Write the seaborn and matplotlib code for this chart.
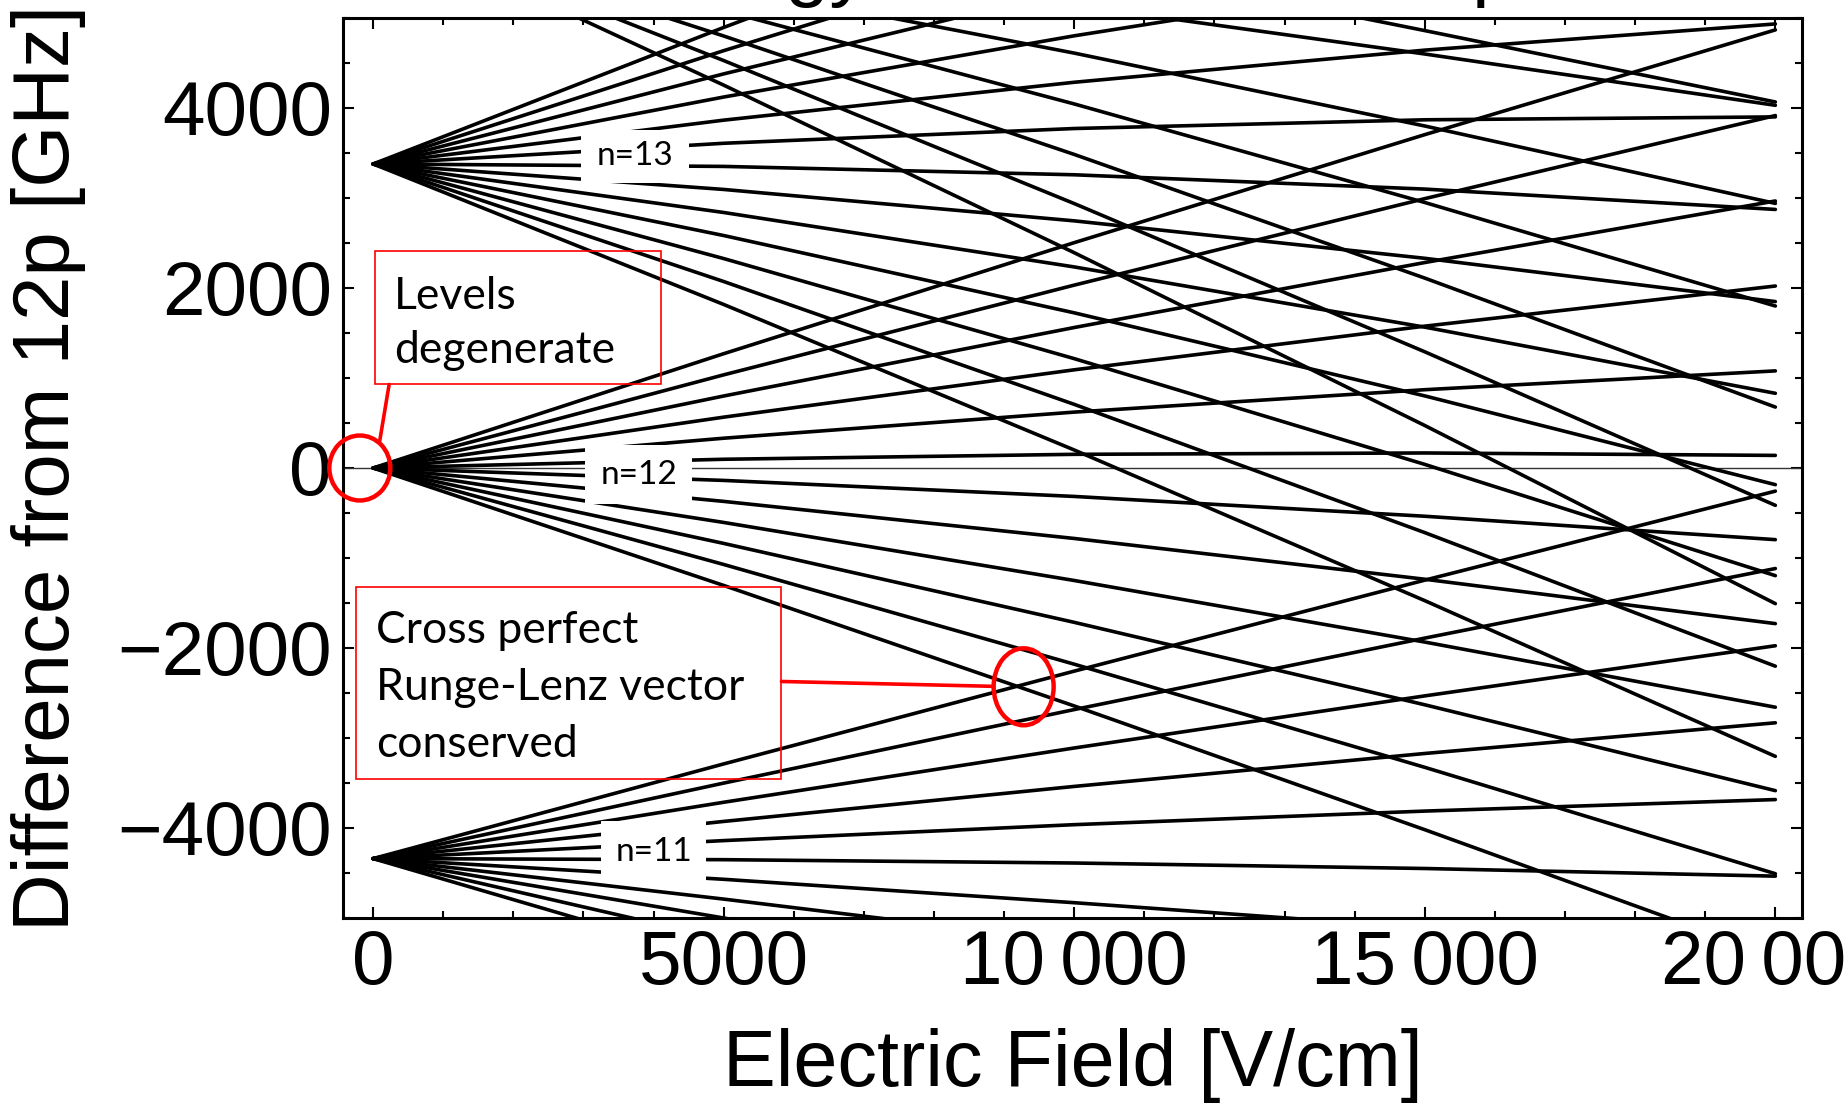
import matplotlib
matplotlib.use("Agg")
import matplotlib.pyplot as plt
from matplotlib.patches import Ellipse, Rectangle
from matplotlib.ticker import MultipleLocator
import numpy as np
import pandas as pd
import seaborn as sns

# ---------------- data (energy in GHz vs field in V/cm) ----------------
field = [0, 5000, 10000, 15000, 20000]

n11_lines = [
    [-4340, -3288, -2257, -1246, -257],
    [-4340, -3501, -2684, -1890, -1117],
    [-4340, -3714, -3111, -2532, -1975],
    [-4340, -3927, -3538, -3172, -2831],
    [-4340, -4140, -3963, -3812, -3684],
    [-4340, -4352, -4389, -4450, -4535],
    [-4340, -4570, -4830, -5110, -5410],
    [-4340, -4790, -5265, -5760, -6270],
    [-4340, -5000, -5690, -6390, -7110],
    [-4340, -5235, -6150, -7080, -8030],
    [-4340, -5480, -6640, -7800, -8990],
]

n12_lines = [
    [0, 1270, 2504, 3704, 4868],
    [0, 1035, 2032, 2993, 3916],
    [0, 800, 1561, 2283, 2967],
    [0, 565, 1091, 1576, 2022],
    [0, 331, 621, 870, 1079],
    [0, 97, 152, 167, 140],
    [0, -138, -316, -536, -796],
    [0, -371, -783, -1236, -1729],
    [0, -605, -1250, -1934, -2658],
    [0, -838, -1715, -2631, -3585],
    [0, -1072, -2180, -3326, -4508],
    [0, -1305, -2644, -4019, -5428],
]

n13_lines = [
    [3378, 4895, 6356, 7760, 9108],
    [3378, 4637, 5837, 6977, 8058],
    [3378, 4379, 5319, 6196, 7012],
    [3378, 4122, 4802, 5418, 5971],
    [3378, 3865, 4286, 4643, 4934],
    [3378, 3608, 3772, 3869, 3901],
    [3378, 3351, 3258, 3099, 2873],
    [3378, 3095, 2746, 2330, 1849],
    [3378, 2839, 2234, 1565, 830],
    [3378, 2583, 1724, 801, -185],
    [3378, 2327, 1215, 40, -1196],
    [3378, 2072, 707, -718, -2202],
    [3378, 1817, 200, -1474, -3204],
]

n14_lines = [
    [6058, 4254, 2392, 472, -1507],
    [6058, 4527, 2938, 1291, -415],
    [6058, 4800, 3484, 2110, 677],
    [6058, 5080, 4045, 2950, 1800],
    [6058, 5360, 4610, 3800, 2940],
    [6058, 5625, 5140, 4600, 4030],
    [6058, 5950, 5640, 4860, 4067],
]

manifolds = {"n11": n11_lines, "n12": n12_lines, "n13": n13_lines, "n14": n14_lines}

x_ticks = [0, 5000, 10000, 15000, 20000]
x_tick_labels = ["0", "5000", "10\u2009000", "15\u2009000", "20\u2009000"]
y_ticks = [-4000, -2000, 0, 2000, 4000]
y_tick_labels = ["\u22124000", "\u22122000", "0", "2000", "4000"]

rows = []
for name, lines in manifolds.items():
    for i, vals in enumerate(lines):
        for f, e in zip(field, vals):
            rows.append({"field": f, "energy": e, "line": f"{name}_{i}"})
df = pd.DataFrame(rows)

# ---------------- plot ----------------
sns.set_style("ticks")
plt.rcParams["font.family"] = ["Liberation Sans", "DejaVu Sans"]
for key in ["text.color", "axes.labelcolor", "xtick.color", "ytick.color",
            "axes.edgecolor"]:
    plt.rcParams[key] = "black"

W, H = 1848, 1107
fig = plt.figure(figsize=(W / 100, H / 100), dpi=100)
ax = fig.add_axes([343 / W, 189 / H, 1459 / W, 900 / H])

ax.axhline(0, color="#333333", lw=1.0, zorder=1)
sns.lineplot(data=df, x="field", y="energy", units="line", estimator=None,
             color="black", lw=2.6, ax=ax, legend=False, zorder=2)

ax.set_xlim(-430, 20380)
ax.set_ylim(-5000, 5000)
ax.set_xticks(x_ticks)
ax.set_xticklabels(x_tick_labels)
ax.set_yticks(y_ticks)
ax.set_yticklabels(y_tick_labels)
ax.xaxis.set_minor_locator(MultipleLocator(1000))
ax.yaxis.set_minor_locator(MultipleLocator(500))
ax.tick_params(which="both", direction="in", top=True, right=True,
               width=1.5, labelsize=55, pad=8, color="black", labelcolor="black")
ax.tick_params(which="major", length=8)
ax.tick_params(which="minor", length=5)
for s in ax.spines.values():
    s.set_linewidth(2.2)
    s.set_color("black")

ax.set_xlabel("Electric Field [V/cm]", fontsize=57, color="black")
ax.set_ylabel("Difference from 12p [GHz]", fontsize=57.5, color="black")
ax.xaxis.set_label_coords(0.5, -0.122)
ax.yaxis.set_label_coords(-0.176, 0.5)

# title, almost entirely above the top edge of the picture (as in the reference)
fig.text(618 / W, 1 + 8.6 / H, "Energy levels around 12p", fontsize=57,
         ha="left", va="baseline", color="black")

# manifold labels on white patches
lab_font = ["Lato", "DejaVu Sans"]
for (x0, x1, y0, y1, tx, ty, s) in [
    (2966, 4506, 3163, 3752, 3736, 3463, "n=13"),
    (3023, 4549, -403, 252, 3786, -76, "n=12"),
    (3251, 4749, -4603, -3926, 4000, -4264, "n=11"),
]:
    ax.add_patch(Rectangle((x0, y0), x1 - x0, y1 - y0, facecolor="white",
                           edgecolor="none", zorder=3))
    ax.text(tx, ty, s, ha="center", va="center", fontsize=24,
            family=lab_font, zorder=4, color="black")

red = "#ff0000"
# annotation 1
ax.add_patch(Rectangle((26, 928), 4110 - 26, 2408 - 928, fill=False,
                       edgecolor=red, lw=1.2, zorder=5))
ax.text(294, 1766, "Levels", fontsize=32, family=lab_font, va="baseline",
        zorder=6, color="black")
ax.text(294, 1163, "degenerate", fontsize=32, family=lab_font, va="baseline",
        zorder=6, color="black")
ax.plot([228, 93], [928, 297], color=red, lw=2.6, zorder=6, clip_on=False)
ax.add_patch(Ellipse((-190, 0), 870, 722, fill=False, edgecolor=red, lw=3.2,
                     zorder=6, clip_on=False))

# annotation 2
ax.add_patch(Rectangle((-242, -3459), 5824 + 242, -1326 + 3459, fill=False,
                       edgecolor=red, lw=1.2, zorder=5, clip_on=False))
ax.text(43, -1940, "Cross perfect", fontsize=32, family=lab_font,
        va="baseline", zorder=6, color="black")
ax.text(43, -2581, "Runge-Lenz vector", fontsize=32, family=lab_font,
        va="baseline", zorder=6, color="black")
ax.text(43, -3211, "conserved", fontsize=32, family=lab_font,
        va="baseline", zorder=6, color="black")
ax.plot([5824, 8850], [-2372, -2426], color=red, lw=2.6, zorder=6)
ax.add_patch(Ellipse((9278, -2431), 856, 855, fill=False, edgecolor=red, lw=3.2,
                     zorder=6))

fig.savefig("out.png", dpi=100)
